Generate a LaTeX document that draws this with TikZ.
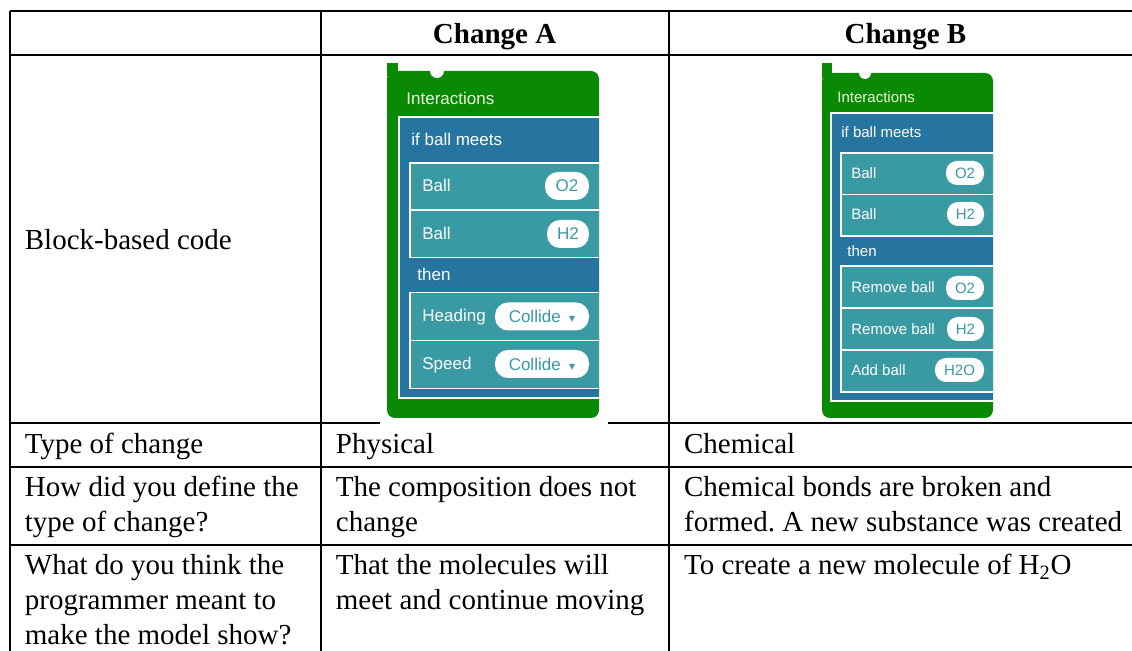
\documentclass[tikz,border=0pt]{standalone}
\usepackage{fontspec}
\setmainfont{Liberation Serif}
\setsansfont{Liberation Sans}
\newfontfamily\arrowfont{DejaVu Sans}
\frenchspacing
\usepackage{tikz}
\usetikzlibrary{calc}
\definecolor{blkgreen}{RGB}{10,137,5}
\definecolor{blkblue}{RGB}{37,117,160}
\definecolor{blkteal}{RGB}{57,154,164}
\definecolor{intertext}{RGB}{238,250,220}
\tikzset{>=latex}
\tikzset{
  grid/.style={line width=1pt},
  cell/.style={anchor=base west, inner sep=0pt, text width=230pt, align=flush left, font=\fontsize{14.5}{17.5}\selectfont},
  head/.style={anchor=base, inner sep=0pt, font=\fontsize{14.5}{17.5}\selectfont\bfseries},
  rim/.style={white, line width=0.6pt},
  lblA/.style={anchor=base west, inner sep=0pt, text=white, font=\sffamily\fontsize{8.5}{10}\selectfont},
  lblB/.style={lblA, font=\sffamily\fontsize{7.5}{9}\selectfont},
  pillA/.style={fill=white, rounded corners=6.5pt, inner sep=0pt, minimum height=14pt, text=blkteal, font=\sffamily\fontsize{8.5}{10}\selectfont},
  pillB/.style={pillA, rounded corners=5.5pt, minimum height=12pt, font=\sffamily\fontsize{7.5}{9}\selectfont}
}

\begin{document}
\begin{tikzpicture}[x=0.5pt, y=-0.5pt]
\useasboundingbox (0,0) rectangle (1132,651);
\draw[grid] (9.5,11.3) -- (1132,11.3);
\draw[grid] (9.5,55) -- (1132,55);
\draw[grid] (9.5,423.5) -- (380,423.5);
\draw[grid] (608,423.5) -- (1132,423.5);
\draw[grid] (9.5,467) -- (1132,467);
\draw[grid] (9.5,545) -- (1132,545);
\draw[grid] (9.5,11.3) -- (9.5,651);
\draw[grid] (320.5,11.3) -- (320.5,651);
\draw[grid] (668.7,11.3) -- (668.7,651);

\node[head] (hA) at (494.6,43.3) {Change A};
\node[head] (hB) at (905.5,43.3) {Change B};
\node[cell] (rowcode) at (24.5,249.5) {Block-based code};
\node[cell] (rowtype) at (24.5,453.3) {Type of change};
\node[cell] (typeA) at (335.5,453.3) {Physical};
\node[cell] (typeB) at (683.7,453.3) {Chemical};
\node[cell] (rowdef) at (24.5,497) {How did you define the\\type of change?};
\node[cell] (defA) at (335.5,497) {The composition does not\\change};
\node[cell] (defB) at (683.7,497) {Chemical bonds are broken and\\formed. A new substance was created};
\node[cell] (rowaim) at (24.5,575) {What do you think the\\programmer meant to\\make the model show?};
\node[cell] (aimA) at (335.5,575) {That the molecules will\\meet and continue moving};
\node[cell] (aimB) at (683.7,575) {To create a new molecule of H\textsubscript{2}O};

\fill[blkgreen] (387,63) rectangle (398,76);
\fill[blkgreen, rounded corners=4pt] (387,71) rectangle (599,418);
\fill[white] (437,71) circle (3.5pt);
\fill[blkblue] (399,117) rectangle (599,398);
\draw[rim] (599,117) -- (399,117) -- (399,398) -- (599,398);
\fill[blkteal] (410,163) rectangle (599,257.7);
\draw[rim] (599,163) -- (410,163) -- (410,257.7) -- (599,257.7);
\draw[rim] (410,210) -- (599,210);
\fill[blkteal] (410,292.7) rectangle (599,388.3);
\draw[rim] (599,292.7) -- (410,292.7) -- (410,388.3) -- (599,388.3);
\draw[rim] (410,340.7) -- (599,340.7);
\node[lblA, text=intertext] (intA) at (406,105) {Interactions};
\node[lblA] (ifA) at (411,146) {if ball meets};
\node[lblA] (ballA1) at (422,192) {Ball};
\node[lblA] (ballA2) at (422,240) {Ball};
\node[lblA] (thenA) at (417,281) {then};
\node[lblA] (headA) at (422,322) {Heading};
\node[lblA] (speedA) at (422,370) {Speed};
\node[pillA, minimum width=22pt] (o2A) at (567,186) {O2};
\node[pillA, minimum width=21pt] (h2A) at (568,234) {H2};
\node[pillA, minimum width=47pt] (colA1) at (542,316.5) {Collide\enspace{\arrowfont\fontsize{6}{7}\selectfont▾}};
\node[pillA, minimum width=47pt] (colA2) at (542,364) {Collide\enspace{\arrowfont\fontsize{6}{7}\selectfont▾}};

\fill[blkgreen] (822,63) rectangle (832,78);
\fill[blkgreen, rounded corners=4pt] (822,73) rectangle (993,418);
\fill[white] (865,73) circle (3pt);
\fill[blkblue] (831,113) rectangle (993,401);
\draw[rim] (993,113) -- (831,113) -- (831,401) -- (993,401);
\fill[blkteal] (841,153) rectangle (993,236);
\draw[rim] (993,153) -- (841,153) -- (841,236) -- (993,236);
\draw[rim] (841,194.5) -- (993,194.5);
\fill[blkteal] (841,266) rectangle (993,392);
\draw[rim] (993,266) -- (841,266) -- (841,392) -- (993,392);
\draw[rim] (841,308) -- (993,308);
\draw[rim] (841,350) -- (993,350);
\node[lblB, text=intertext] (intB) at (837,102.4) {Interactions};
\node[lblB] (ifB) at (841,137.4) {if ball meets};
\node[lblB] (ballB1) at (851,178.4) {Ball};
\node[lblB] (ballB2) at (851,219.4) {Ball};
\node[lblB] (thenB) at (847,256.4) {then};
\node[lblB] (remB1) at (851,292.4) {Remove ball};
\node[lblB] (remB2) at (851,334.4) {Remove ball};
\node[lblB] (addB) at (851,375.4) {Add ball};
\node[pillB, minimum width=19pt] (o2B) at (965,173) {O2};
\node[pillB, minimum width=18.5pt] (h2B) at (965.5,214) {H2};
\node[pillB, minimum width=19pt] (o2B2) at (965,288) {O2};
\node[pillB, minimum width=18.5pt] (h2B2) at (965.5,329) {H2};
\node[pillB, minimum width=24.5pt] (h2oB) at (959.5,370) {H2O};
\end{tikzpicture}
\end{document}
